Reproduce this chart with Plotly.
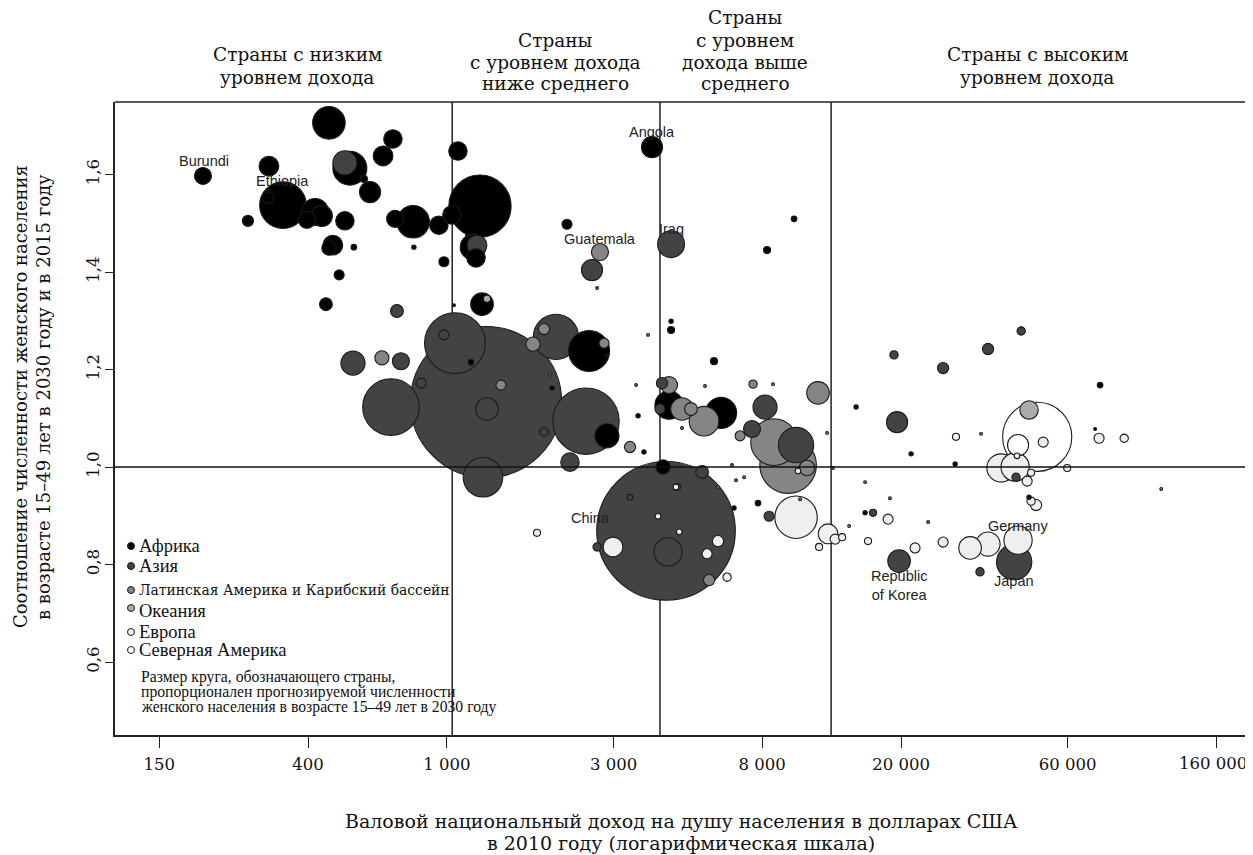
import numpy as np
import plotly.graph_objects as go

# ---------------- data (GNI per capita 2010 USD, ratio 2030/2015, women 15-49 in 2030, millions) ----
africa_gni = [200, 459, 700, 656, 527, 309, 578, 339, 307, 602, 419, 438, 397, 269, 510, 710, 800, 948,
              1033, 1075, 1243, 1187, 1211, 471, 459, 541, 804, 980, 491, 450, 1047, 1260, 1141, 3867,
              2207, 9868, 8260, 4385, 4385, 1172, 2553, 2873, 2000, 3527, 2873, 3667, 4158, 4327, 6098,
              5821, 6641, 7780, 14860, 21360, 28560, 74300, 71900, 46500, 15770]
africa_ratio = [1.597, 1.706, 1.673, 1.638, 1.613, 1.617, 1.591, 1.537, 1.552, 1.564, 1.523, 1.515, 1.507,
                1.505, 1.505, 1.509, 1.503, 1.496, 1.517, 1.648, 1.535, 1.451, 1.429, 1.455, 1.449, 1.451,
                1.451, 1.421, 1.394, 1.334, 1.332, 1.334, 1.476, 1.656, 1.498, 1.509, 1.445, 1.281, 1.299,
                1.215, 1.238, 1.228, 1.162, 1.105, 1.064, 1.031, 1.000, 1.127, 1.111, 1.217, 0.916, 0.926,
                1.123, 1.027, 1.006, 1.168, 1.078, 0.938, 0.906]
africa_pop = [4.6, 16.8, 5.4, 6.2, 18.3, 6.2, 0.8, 34.6, 2.0, 7.1, 11.5, 7.1, 4.6, 2.0, 5.4, 4.6, 16.8, 5.4,
              5.4, 5.4, 61.5, 10.3, 5.4, 6.2, 3.2, 0.5, 0.3, 1.6, 1.6, 2.6, 0.13, 8.1, 0.13, 7.1, 1.6, 0.5,
              0.8, 0.8, 0.3, 0.5, 26.7, 0.13, 0.3, 0.3, 9.2, 0.3, 3.2, 12.7, 15.4, 0.8, 0.3, 0.5, 0.3, 0.3,
              0.3, 0.5, 0.13, 0.3, 0.3]

asia_gni = [510, 719, 1219, 2603, 4385, 1054, 1294, 2052, 2502, 1897, 2251, 1268, 538, 738, 843, 691, 4076,
            4130, 8150, 7480, 10000, 5380, 4560, 4299, 4241, 8370, 2692, 3345, 19080, 26380, 35480, 44150,
            19470, 42680, 16620, 19730, 42150, 33650, 980, 1302]
asia_ratio = [1.624, 1.320, 1.455, 1.404, 1.457, 1.254, 1.133, 1.267, 1.094, 1.072, 1.010, 0.979, 1.213,
              1.217, 1.172, 1.123, 1.119, 1.172, 1.123, 1.078, 1.045, 0.990, 0.959, 0.826, 0.869, 0.899,
              0.836, 0.938, 1.230, 1.203, 1.242, 1.279, 1.092, 0.979, 0.906, 0.807, 0.805, 0.785, 1.271, 1.119]
asia_pop = [9.2, 2.6, 6.2, 7.1, 11.5, 58.7, 363, 32.5, 70, 1.1, 5.4, 24.9, 9.2, 4.6, 1.6, 50.8, 1.6, 2.0,
            9.2, 4.6, 19.8, 2.6, 0.8, 12.7, 305, 1.6, 1.1, 0.5, 1.1, 2.0, 2.0, 1.1, 7.1, 1.1, 0.8, 8.1,
            19.8, 1.1, 1.6, 8.1]

latam_gni = [2743, 1764, 1897, 2818, 651, 3345, 4327, 7530, 11560, 4713, 5000, 5449, 6914, 8650, 9490,
             10750, 5634, 1428,
             12270, 12760, 15770, 18580, 23900, 111200, 33890, 8590, 5485, 4713, 6555, 6730, 7100, 5975,
             10270, 3767, 3483, 1972, 2692, 14190]
latam_ratio = [1.441, 1.252, 1.283, 1.254, 1.224, 1.041, 1.168, 1.170, 1.152, 1.119, 1.119, 1.094, 1.064,
               1.051, 1.004, 0.998, 0.768, 1.168,
               1.070, 0.998, 0.969, 0.936, 0.887, 0.955, 1.068, 1.170, 1.166, 1.080, 1.004, 0.973, 0.979,
               0.959, 0.934, 1.271, 1.168, 1.189, 1.367, 0.879]
latam_pop = [4.6, 3.2, 2.0, 1.6, 3.2, 2.0, 4.6, 1.1, 8.1, 8.1, 2.6, 14.0, 1.6, 34.6, 50.8, 3.8, 2.0, 1.6,
             0.13, 0.13, 0.13, 0.13, 0.13, 0.13, 0.13, 0.13, 0.13, 0.13, 0.13, 0.13, 0.13, 0.13, 0.13,
             0.13, 0.13, 0.13, 0.13, 0.13]

oceania_gni = [46500, 1302]
oceania_ratio = [1.117, 1.345]
oceania_pop = [5.4, 0.8]

europe_gni = [10000, 38650, 42430, 43250, 35480, 31520, 12350, 2990, 12940, 13550, 11640, 5975, 5560, 6345,
              1811, 4024, 4529, 4627, 18350, 16080, 21920, 26380, 28720, 51050, 73800, 87100, 59800, 42960,
              47130, 45920, 47130, 48700, 10130]
europe_ratio = [0.897, 0.998, 1.000, 0.850, 0.842, 0.834, 0.863, 0.836, 0.852, 0.856, 0.836, 0.848, 0.822,
                0.774, 0.865, 0.899, 0.959, 0.867, 0.893, 0.848, 0.834, 0.846, 1.062, 1.051, 1.059, 1.059,
                0.998, 1.023, 0.988, 0.971, 0.930, 0.922, 0.992]
europe_pop = [28.6, 12.7, 12.7, 12.7, 9.2, 8.1, 6.2, 6.2, 1.6, 0.8, 0.8, 2.0, 1.6, 1.1, 0.8, 0.5, 0.5, 0.5,
              1.6, 0.8, 1.6, 1.6, 0.8, 1.6, 1.6, 1.1, 0.8, 0.5, 0.8, 1.6, 1.1, 2.0, 0.5]

namerica_gni = [49070, 43250]
namerica_ratio = [1.062, 1.045]
namerica_pop = [76, 7.1]

income_thresholds = [1035, 4075, 12600]

x_tickvals = [150, 400, 1000, 3000, 8000, 20000, 60000, 160000]
x_ticktext = ["150", "400", "1\u00a0000", "3\u00a0000", "8\u00a0000", "20\u00a0000", "60\u00a0000", "160\u00a0000"]
y_tickvals = [0.6, 0.8, 1.0, 1.2, 1.4, 1.6]
y_ticktext = ["0,6", "0,8", "1,0", "1,2", "1,4", "1,6"]

region_names = ["Африка", "Азия", "Латинская Америка и Карибский бассейн", "Океания", "Европа",
                "Северная Америка"]
region_colors = ["#000000", "#434343", "#858585", "#ababab", "#efefef", "#ffffff"]

# labels: (region index, point index, text, dx px, dy px)
labels = [
    (0, 0, "Burundi", 1, 15),
    (0, 7, "Ethiopia", 0, 24),
    (0, 33, "Angola", 0, 15),
    (2, 0, "Guatemala", 0, 13),
    (1, 4, "Iraq", 0, 15),
    (1, 24, "China", -76, 13),
    (4, 3, "Germany", 0, 14),
    (1, 36, "Japan", 0, -19),
    (1, 35, "Republic<br>of Korea", 0, -24),
]

header_texts = [
    ["Страны с низким", "уровнем дохода"],
    ["Страны", "с уровнем дохода", "ниже среднего"],
    ["Страны", "с уровнем", "дохода выше", "среднего"],
    ["Страны с высоким", "уровнем дохода"],
]
note_lines = ["Размер круга, обозначающего страны,",
              "пропорционален прогнозируемой численности",
              "женского населения в возрасте 15–49 лет в 2030 году"]
y_title = ["Соотношение численности женского населения",
           "в возрасте 15–49 лет в 2030 году и в 2015 году"]
x_title = ["Валовой национальный доход на душу населения в долларах США",
           "в 2010 году (логарифмическая шкала)"]

# ---------------- build ----------------
SERIF_W = "DejaVu Serif, Liberation Serif, serif"
SERIF = "Liberation Serif, Times New Roman, serif"
SANS = "Liberation Sans, Arial, sans-serif"
OFF = 8                      # page body offset of the figure
W, H = 1253 - OFF, 855 - OFF
PLOT_L, PLOT_T, PLOT_B = 115, 102, 735   # page pixel positions of the plot box
ML, MR, MT, MB = PLOT_L - OFF, 0, PLOT_T - OFF, (OFF + H) - PLOT_B
PW, PH = W - ML - MR, H - MT - MB


def fx(px):
    return (px - PLOT_L) / PW


def fy(py):
    return (PLOT_B - py) / PH


groups = [
    (africa_gni, africa_ratio, africa_pop),
    (asia_gni, asia_ratio, asia_pop),
    (latam_gni, latam_ratio, latam_pop),
    (oceania_gni, oceania_ratio, oceania_pop),
    (europe_gni, europe_ratio, europe_pop),
    (namerica_gni, namerica_ratio, namerica_pop),
]

xs, ys, ss, cs = [], [], [], []
for (g, r, p), col in zip(groups, region_colors):
    xs += list(g)
    ys += list(r)
    ss += list(p)
    cs += [col] * len(g)
order = np.argsort(-np.array(ss), kind="stable")
xs = [xs[i] for i in order]
ys = [ys[i] for i in order]
ss = [ss[i] for i in order]
cs = [cs[i] for i in order]

fig = go.Figure()

# income group separators
for t in income_thresholds:
    fig.add_trace(go.Scatter(x=[t, t], y=[0.3, 1.9], mode="lines",
                             line=dict(color="#111111", width=1.4),
                             hoverinfo="skip", showlegend=False))

fig.add_trace(go.Scatter(
    x=xs, y=ys, mode="markers",
    marker=dict(size=ss, sizemode="area", sizeref=1 / 31.5, sizemin=1,
                color=cs, opacity=1, line=dict(color="#1a1a1a", width=1.1)),
    hoverinfo="skip", showlegend=False))

shapes = [
    dict(type="line", xref="paper", yref="y", x0=0, x1=1, y0=1.0, y1=1.0,
         line=dict(color="#111111", width=1.4)),
    dict(type="line", xref="paper", yref="paper", x0=0, x1=1, y0=1, y1=1,
         line=dict(color="#222222", width=1.6)),
]

annotations = []
for ri, pi, txt, dx, dy in labels:
    g, r, _ = groups[ri]
    annotations.append(dict(x=np.log10(g[pi]), y=r[pi], xref="x", yref="y", text=txt,
                            showarrow=False, xshift=dx, yshift=dy,
                            font=dict(family=SANS, size=14.5, color="#222222")))

# last x tick label drawn separately, nudged left so that it stays inside the page
tick_font = dict(family=SERIF_W, size=16.5, color="#111111")
shown_ticktext = x_ticktext[:-1] + [""]
annotations.append(dict(x=np.log10(x_tickvals[-1]), y=fy(763), xref="x", yref="paper",
                        text=x_ticktext[-1], showarrow=False, xanchor="center", yanchor="middle",
                        xshift=-3, font=tick_font))

# headers
header_cx = [297, 555, 745, 1037]
header_ys = [[55, 77], [40, 62, 84], [18, 40, 62, 84], [55, 77]]
for lines, cx, yl in zip(header_texts, header_cx, header_ys):
    for line, yy in zip(lines, yl):
        annotations.append(dict(x=fx(cx), y=fy(yy), xref="paper", yref="paper", text=line,
                                showarrow=False, xanchor="center", yanchor="middle",
                                font=dict(family=SERIF_W, size=18.5, color="#111111")))

# legend
leg_y = [546, 566, 590, 611, 632, 650]
leg_font = [(SERIF, 18.5), (SERIF, 18.5), (SERIF_W, 13.9), (SERIF, 18.5), (SERIF, 18.5), (SERIF, 18.5)]
for name, col, yy, (ff, fs) in zip(region_names, region_colors, leg_y, leg_font):
    shapes.append(dict(type="circle", xref="paper", yref="paper",
                       xsizemode="pixel", ysizemode="pixel",
                       xanchor=fx(131), yanchor=fy(yy - (3 if name == "Океания" else 0)),
                       x0=-3.5, x1=3.5, y0=-3.5, y1=3.5,
                       fillcolor=col, line=dict(color="#1a1a1a", width=1)))
    annotations.append(dict(x=fx(137), y=fy(yy), xref="paper", yref="paper", text=name,
                            showarrow=False, xanchor="left", yanchor="middle",
                            font=dict(family=ff, size=fs, color="#111111")))
for line, yy in zip(note_lines, [677, 692, 707]):
    annotations.append(dict(x=fx(139), y=fy(yy), xref="paper", yref="paper", text=line,
                            showarrow=False, xanchor="left", yanchor="middle",
                            font=dict(family=SERIF, size=15.7, color="#111111")))

# axis titles
for line, px in zip(y_title, [20, 43]):
    annotations.append(dict(x=fx(px), y=fy(397), xref="paper", yref="paper", text=line,
                            showarrow=False, textangle=-90, xanchor="center", yanchor="middle",
                            font=dict(family=SERIF_W, size=18, color="#111111")))
for line, py in zip(x_title, [821, 843]):
    annotations.append(dict(x=fx(681), y=fy(py), xref="paper", yref="paper", text=line,
                            showarrow=False, xanchor="center", yanchor="middle",
                            font=dict(family=SERIF_W, size=19, color="#111111")))

fig.update_layout(
    width=W, height=H,
    margin=dict(l=ML, r=MR, t=MT, b=MB),
    paper_bgcolor="white", plot_bgcolor="white",
    showlegend=False,
    shapes=shapes,
    annotations=annotations,
    xaxis=dict(type="log", range=[2.049, 5.309], tickvals=x_tickvals, ticktext=shown_ticktext,
               ticks="outside", ticklen=11, tickwidth=1.2, tickcolor="#222222",
               showline=True, linecolor="#222222", linewidth=1.6, mirror=False,
               showgrid=False, zeroline=False, ticklabelstandoff=2,
               tickfont=tick_font),
    yaxis=dict(range=[0.4503, 1.7487], tickvals=y_tickvals, ticktext=y_ticktext,
               ticks="outside", ticklen=8, tickwidth=1.2, tickcolor="#222222", tickangle=-90,
               showline=True, linecolor="#222222", linewidth=1.6,
               showgrid=False, zeroline=False,
               tickfont=tick_font),
)

fig.write_html("out.html")
